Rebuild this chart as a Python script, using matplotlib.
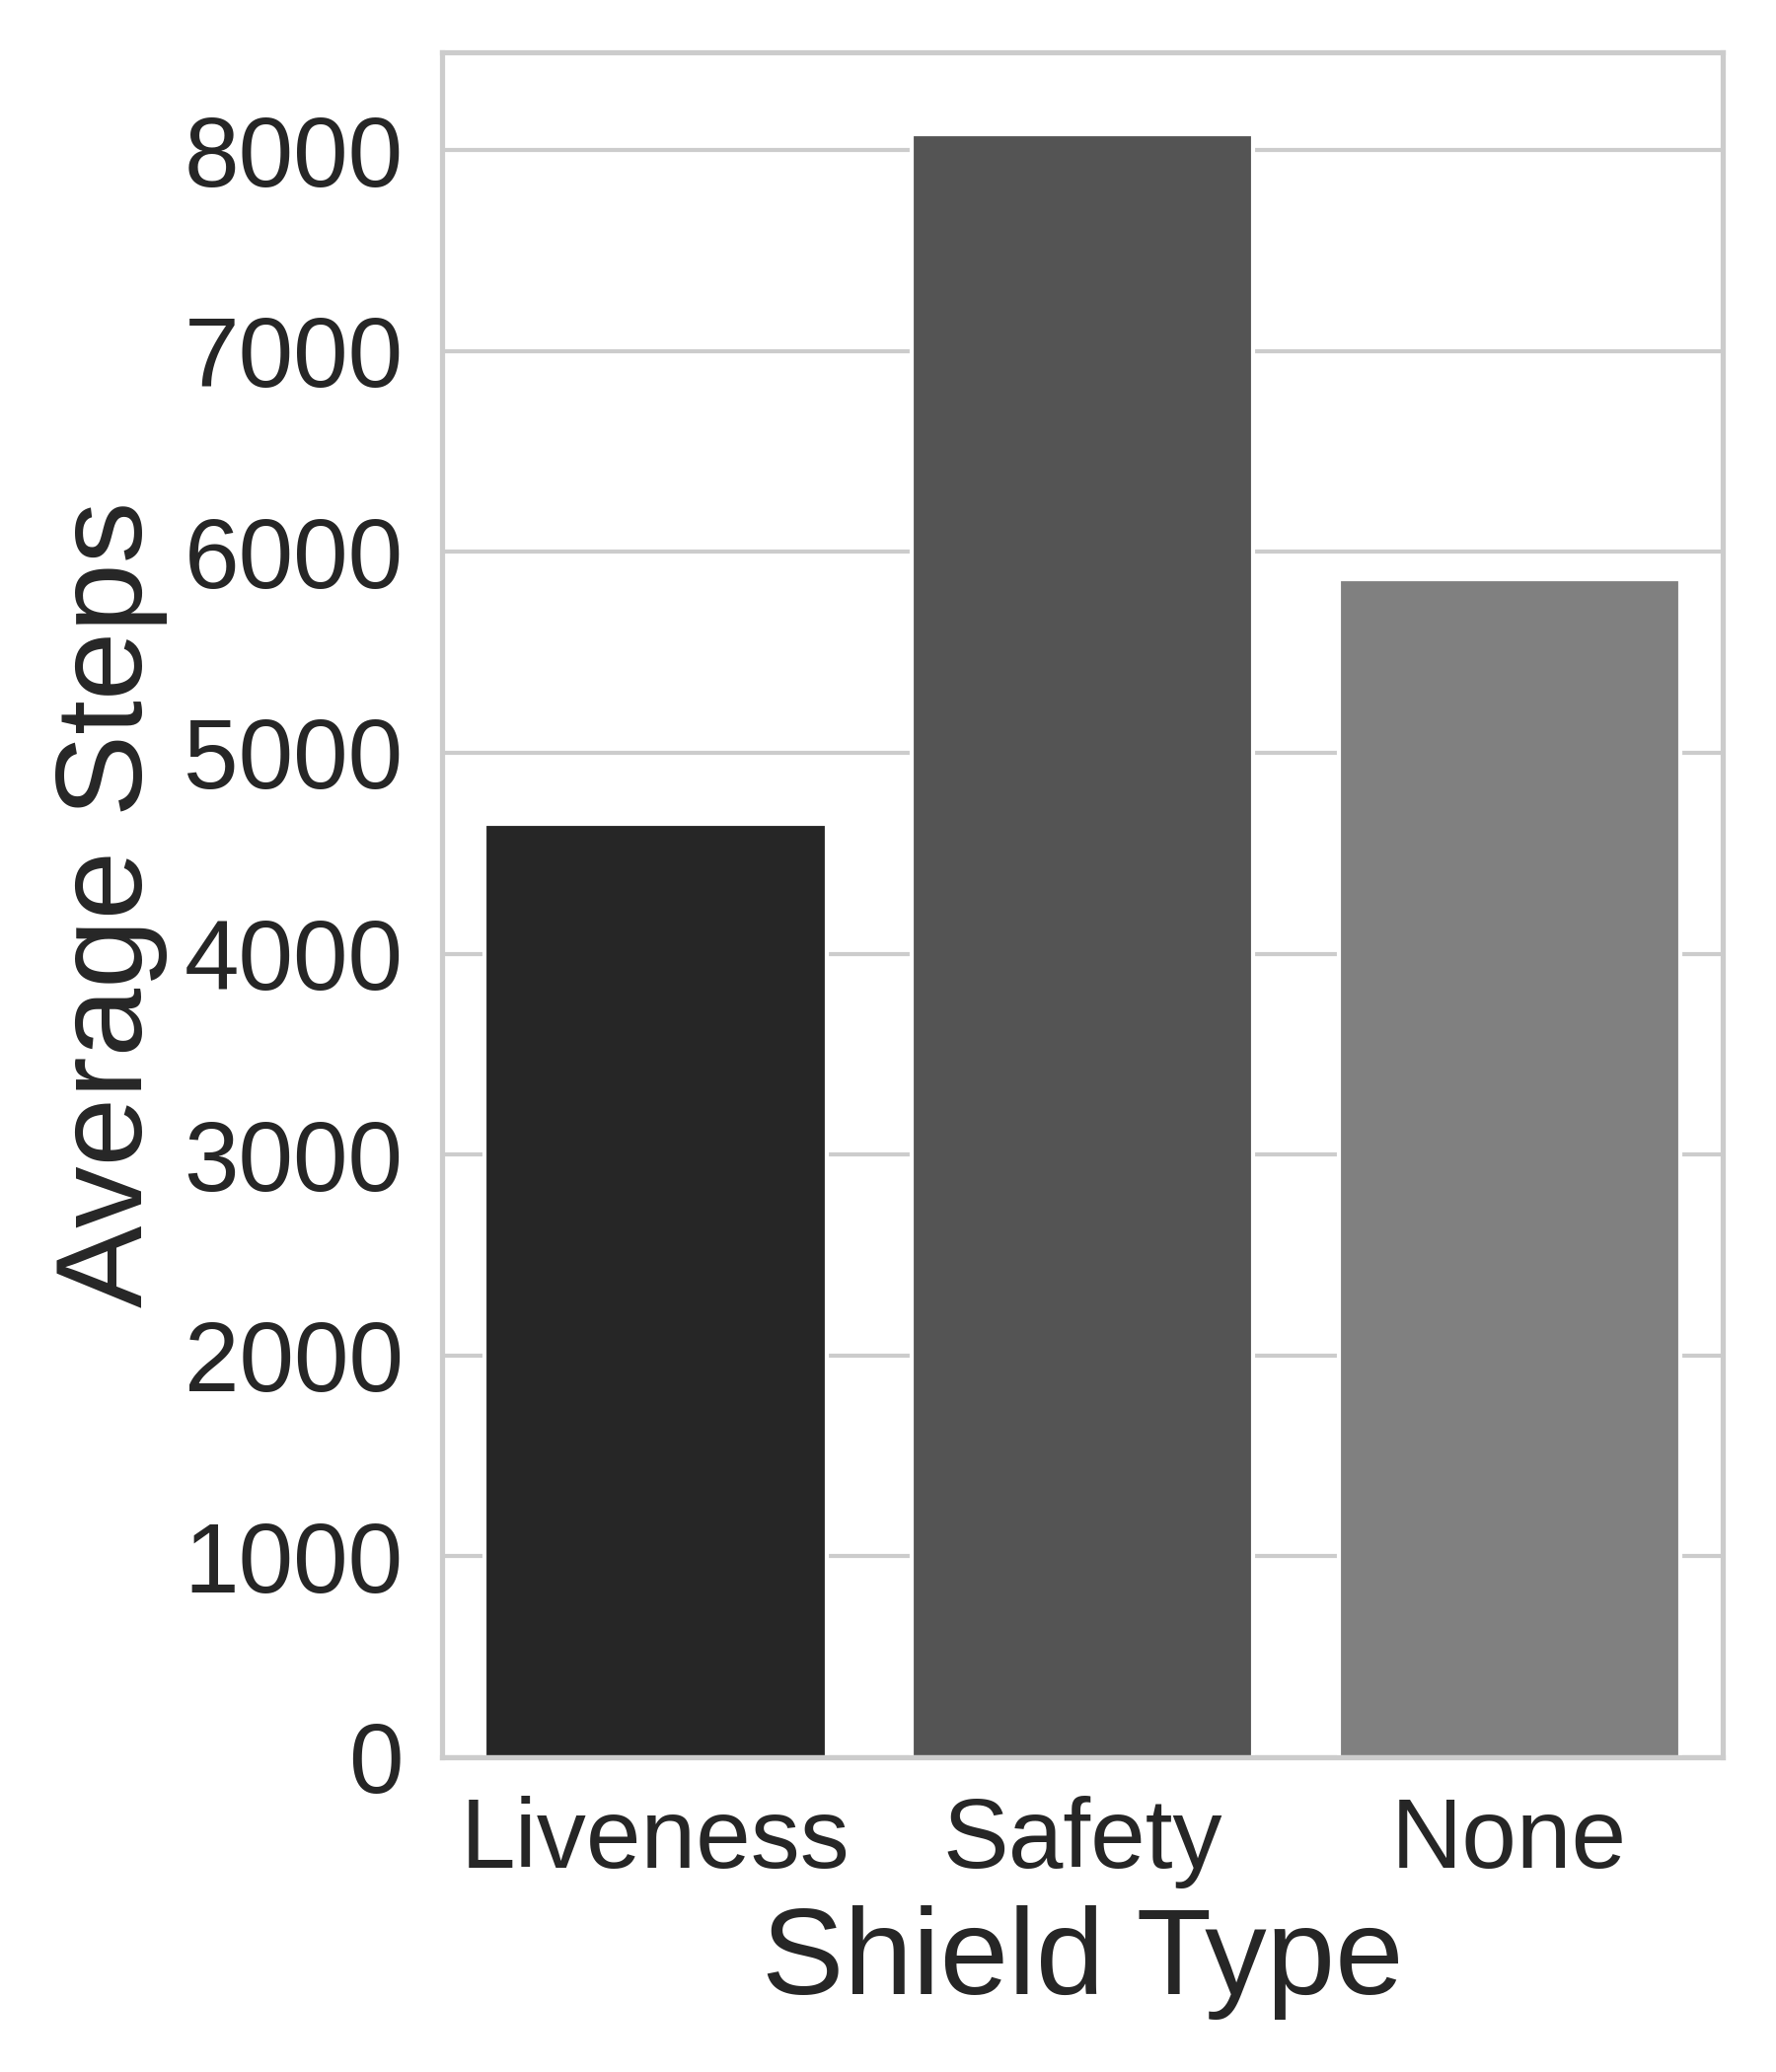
import matplotlib
matplotlib.use("Agg")
import matplotlib.pyplot as plt
import seaborn as sns

categories = ["Liveness", "Safety", "None"]
avg_steps = [4648, 8080, 5862]
bar_colors = ["#262626", "#545454", "#808080"]

sns.set_theme(style="whitegrid")
plt.rcParams['font.family'] = ['Liberation Sans', 'DejaVu Sans']

fig = plt.figure(figsize=(6, 7), dpi=300)
ax = fig.add_axes([0.249, 0.152, 0.721, 0.823])
sns.barplot(x=categories, y=avg_steps, hue=categories, palette=bar_colors,
            legend=False, ax=ax, saturation=1)
ax.set_ylim(0, 8490)
ax.set_yticks(range(0, 8001, 1000))
ax.set_xlabel("Shield Type", fontsize=30)
ax.set_ylabel("Average Steps", fontsize=30)
ax.tick_params(axis='both', labelsize=24)
fig.savefig("out.png", dpi=300)
